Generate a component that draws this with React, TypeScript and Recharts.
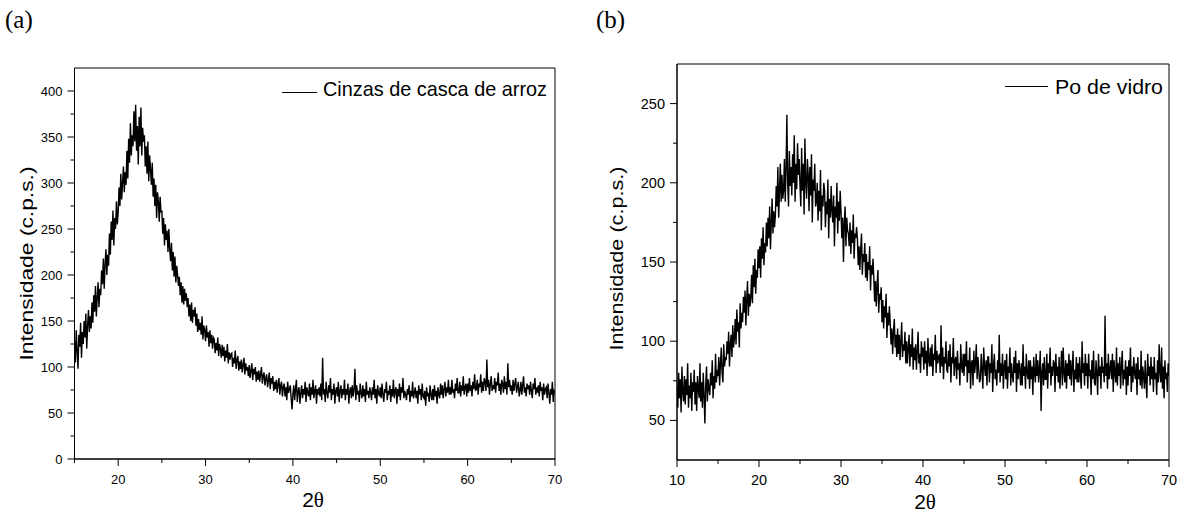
import React from 'react';
import { LineChart, Line, XAxis, YAxis, ReferenceArea, Legend } from 'recharts';

// ---------- Panel (a): Cinzas de casca de arroz ----------
const nameA = 'Cinzas de casca de arroz';
const angleStartA = 15;
const angleStepA = 0.1;
// one row per degree (15.0 ... 69.9), then 70.0
const intensityA = [
  128, 105, 140, 118, 98, 135, 122, 148, 110, 138,
  125, 150, 132, 158, 120, 145, 162, 138, 155, 142,
  170, 148, 178, 160, 188, 155, 175, 192, 165, 185,
  178, 205, 190, 218, 185, 212, 228, 200, 222, 210,
  245, 222, 258, 238, 270, 232, 262, 250, 280, 255,
  268, 295, 275, 310, 282, 300, 318, 290, 312, 298,
  335, 305, 348, 322, 365, 330, 352, 340, 378, 345,
  385, 335, 362, 320, 372, 340, 382, 330, 360, 345,
  352, 318, 340, 310, 345, 302, 330, 315, 298, 322,
  285, 305, 275, 298, 262, 290, 280, 258, 285, 268,
  270, 245, 262, 232, 255, 238, 248, 225, 250, 228,
  215, 235, 205, 225, 198, 220, 192, 210, 200, 188,
  198, 178, 192, 170, 188, 168, 185, 172, 180, 165,
  175, 155, 168, 150, 170, 148, 162, 155, 165, 145,
  158, 138, 152, 140, 148, 135, 155, 130, 145, 140,
  128, 145, 132, 138, 122, 140, 126, 135, 120, 132,
  130, 115, 126, 118, 132, 112, 125, 120, 110, 124,
  112, 122, 106, 118, 110, 125, 104, 116, 108, 114,
  115, 100, 110, 104, 118, 98, 108, 112, 96, 106,
  98, 108, 94, 102, 110, 92, 104, 96, 100, 90,
  102, 88, 96, 104, 86, 98, 92, 100, 84, 95,
  86, 96, 84, 92, 100, 82, 90, 94, 80, 88,
  92, 78, 86, 94, 76, 88, 82, 90, 74, 84,
  76, 86, 72, 82, 88, 70, 80, 84, 68, 78,
  82, 68, 78, 64, 84, 72, 76, 80, 66, 54,
  70, 80, 64, 76, 86, 62, 74, 78, 60, 72,
  80, 66, 76, 70, 84, 62, 78, 72, 68, 82,
  64, 78, 70, 86, 66, 74, 80, 60, 76, 70,
  78, 68, 82, 64, 110, 70, 76, 62, 84, 72,
  66, 80, 72, 88, 64, 76, 70, 82, 60, 74,
  78, 68, 84, 62, 74, 80, 66, 76, 70, 86,
  64, 76, 70, 82, 60, 74, 78, 66, 80, 68,
  76, 98, 64, 80, 70, 74, 62, 82, 72, 66,
  80, 68, 76, 62, 84, 70, 74, 66, 78, 72,
  64, 78, 70, 86, 66, 76, 60, 80, 72, 68,
  78, 66, 82, 70, 62, 76, 72, 84, 64, 74,
  70, 80, 62, 76, 68, 86, 66, 74, 78, 60,
  76, 68, 82, 64, 78, 72, 88, 66, 74, 70,
  64, 76, 70, 80, 62, 74, 68, 84, 66, 72,
  78, 66, 74, 60, 80, 70, 76, 64, 82, 68,
  66, 74, 58, 78, 68, 72, 62, 80, 70, 64,
  76, 64, 80, 68, 74, 60, 78, 70, 66, 82,
  70, 80, 66, 76, 84, 68, 78, 72, 86, 70,
  78, 70, 86, 72, 76, 66, 82, 74, 88, 72,
  72, 84, 68, 80, 74, 90, 70, 78, 82, 68,
  82, 72, 88, 74, 80, 68, 84, 76, 92, 74,
  76, 86, 70, 82, 78, 92, 72, 84, 74, 88,
  84, 74, 108, 78, 86, 70, 82, 90, 74, 80,
  76, 88, 72, 84, 80, 94, 74, 82, 70, 86,
  82, 72, 90, 76, 84, 70, 104, 78, 86, 74,
  80, 70, 86, 74, 82, 88, 72, 78, 84, 68,
  74, 84, 70, 80, 90, 72, 78, 68, 82, 76,
  80, 70, 84, 74, 66, 82, 76, 88, 70, 78,
  72, 80, 68, 84, 74, 78, 64, 82, 70, 76,
  78, 66, 82, 72, 60, 76, 70, 84, 62, 74,
  72,
];
const xDomainA = [15, 70];
const yDomainA = [0, 425];
const xTicksA = [15, 20, 25, 30, 35, 40, 45, 50, 55, 60, 65, 70];
const yTicksA = [0, 25, 50, 75, 100, 125, 150, 175, 200, 225, 250, 275, 300, 325, 350, 375, 400];

// ---------- Panel (b): Po de vidro ----------
const nameB = 'Po de vidro';
const angleStartB = 10;
const angleStepB = 0.1;
// one row per degree (10.0 ... 69.9), then 70.0
const intensityB = [
  72, 58, 80, 64, 76, 55, 84, 68, 62, 78,
  60, 76, 66, 86, 58, 72, 64, 80, 56, 74,
  68, 82, 60, 74, 56, 78, 70, 64, 86, 62,
  74, 58, 80, 66, 48, 72, 84, 62, 76, 70,
  66, 80, 72, 88, 64, 78, 70, 92, 74, 82,
  78, 90, 72, 86, 96, 80, 74, 98, 84, 90,
  88, 100, 92, 106, 84, 98, 104, 90, 110, 96,
  102, 114, 98, 120, 106, 112, 96, 124, 108, 118,
  112, 128, 118, 132, 110, 126, 138, 116, 130, 122,
  128, 142, 124, 148, 134, 152, 130, 145, 140, 158,
  146, 160, 140, 165, 152, 172, 148, 162, 156, 175,
  160, 178, 165, 185, 158, 175, 190, 168, 182, 172,
  180, 198, 185, 210, 178, 195, 212, 188, 205, 190,
  195, 215, 188, 208, 243, 200, 185, 220, 198, 210,
  192, 218, 200, 230, 188, 212, 196, 225, 205, 215,
  198, 185, 222, 195, 212, 180, 228, 200, 190, 215,
  205, 182, 210, 192, 218, 175, 202, 195, 212, 185,
  188, 200, 176, 195, 182, 208, 170, 192, 185, 200,
  195, 172, 188, 180, 202, 165, 190, 178, 198, 182,
  175, 192, 160, 185, 178, 200, 168, 188, 176, 195,
  182, 165, 178, 150, 175, 185, 160, 178, 170, 168,
  160, 175, 155, 170, 162, 180, 152, 168, 165, 172,
  165, 148, 160, 145, 158, 168, 142, 155, 150, 162,
  140, 155, 138, 150, 145, 160, 132, 148, 142, 152,
  140, 125, 138, 122, 135, 145, 118, 130, 126, 134,
  112, 126, 108, 122, 115, 130, 102, 118, 110, 122,
  112, 98, 108, 92, 106, 114, 96, 104, 90, 108,
  92, 104, 88, 100, 112, 90, 98, 94, 106, 86,
  100, 86, 96, 104, 84, 98, 90, 108, 82, 96,
  88, 98, 82, 94, 106, 86, 92, 80, 100, 90,
  96, 82, 100, 86, 94, 78, 102, 88, 84, 96,
  84, 98, 78, 92, 88, 104, 80, 94, 86, 90,
  92, 80, 110, 84, 96, 76, 90, 86, 100, 82,
  80, 94, 84, 98, 74, 90, 86, 102, 78, 88,
  90, 76, 94, 82, 86, 72, 98, 84, 80, 92,
  78, 92, 84, 100, 74, 88, 80, 96, 70, 86,
  88, 72, 94, 80, 86, 98, 76, 90, 82, 74,
  76, 92, 82, 70, 96, 84, 78, 88, 72, 90,
  90, 74, 86, 80, 98, 68, 84, 92, 76, 82,
  72, 88, 80, 104, 74, 86, 78, 92, 70, 84,
  88, 76, 92, 70, 84, 80, 96, 72, 86, 78,
  74, 90, 80, 94, 68, 86, 76, 88, 82, 72,
  86, 72, 98, 78, 84, 70, 92, 80, 76, 88,
  70, 88, 76, 84, 66, 90, 80, 74, 92, 78,
  88, 74, 82, 94, 56, 80, 86, 72, 90, 76,
  76, 92, 70, 86, 80, 96, 72, 84, 78, 88,
  86, 68, 92, 78, 84, 74, 90, 70, 82, 94,
  72, 96, 80, 74, 88, 70, 86, 78, 92, 76,
  88, 72, 84, 94, 68, 82, 76, 90, 74, 86,
  74, 90, 78, 70, 100, 80, 86, 72, 92, 78,
  86, 70, 92, 78, 82, 66, 88, 76, 94, 74,
  72, 88, 80, 66, 92, 78, 84, 70, 90, 80,
  84, 74, 116, 78, 86, 70, 92, 76, 82, 88,
  76, 92, 68, 88, 80, 74, 96, 72, 86, 78,
  90, 70, 84, 94, 72, 82, 76, 88, 66, 84,
  72, 88, 78, 96, 68, 84, 74, 90, 80, 76,
  86, 66, 90, 76, 82, 72, 94, 70, 84, 78,
  70, 88, 74, 64, 92, 78, 84, 72, 90, 76,
  84, 68, 90, 76, 80, 66, 88, 74, 98, 80,
  74, 96, 70, 84, 64, 88, 76, 80, 68, 86,
  78,
];
const xDomainB = [10, 70];
const yDomainB = [25, 275];
const xTicksB = [10, 15, 20, 25, 30, 35, 40, 45, 50, 55, 60, 65, 70];
const yTicksB = [50, 75, 100, 125, 150, 175, 200, 225, 250];

const yTitle = 'Intensidade (c.p.s.)';

const toData = (start: number, step: number, values: number[]) =>
  values.map((v, i) => ({ x: Math.round((start + i * step) * 100) / 100, y: v }));

const dataA = toData(angleStartA, angleStepA, intensityA);
const dataB = toData(angleStartB, angleStepB, intensityB);

const SANS = '"Liberation Sans", Arial, Helvetica, sans-serif';
const SERIF = '"Liberation Serif", "Times New Roman", serif';

const makeXTick = (majorEvery: number, fontSize: number, dy: number) => (props: any) => {
  const { x, y, payload } = props;
  const major = payload.value % majorEvery === 0;
  return (
    <g>
      <line x1={x} y1={y} x2={x} y2={y + (major ? 7 : 4)} stroke="#000" strokeWidth={1} />
      {major && (
        <text x={x} y={y + dy} textAnchor="middle" fontSize={fontSize} fontFamily={SANS} fill="#000">
          {payload.value}
        </text>
      )}
    </g>
  );
};

const makeYTick = (majorEvery: number, fontSize: number, gap: number) => (props: any) => {
  const { x, y, payload } = props;
  const major = payload.value % majorEvery === 0;
  return (
    <g>
      <line x1={x} y1={y} x2={x - (major ? 7 : 4)} y2={y} stroke="#000" strokeWidth={1} />
      {major && (
        <text x={x - gap} y={y + fontSize * 0.35} textAnchor="end" fontSize={fontSize} fontFamily={SANS} fill="#000">
          {payload.value}
        </text>
      )}
    </g>
  );
};

const YTitle = ({ cx, cy, len, text }: any) => (
  <text
    transform={`translate(${cx},${cy}) rotate(-90)`}
    textAnchor="middle"
    fontSize={19}
    fontFamily={SANS}
    fill="#000"
    textLength={len}
    lengthAdjust="spacingAndGlyphs"
  >
    {text}
  </text>
);

const XTitle = ({ cx, baseline }: any) => (
  <text x={cx} y={baseline} textAnchor="middle" fontSize={21} fill="#000">
    <tspan fontFamily={SANS}>2</tspan>
    <tspan fontFamily={SERIF}>θ</tspan>
  </text>
);

const makeLegend = (w: number, h: number, lx1: number, lx2: number, ly: number, tx: number, tb: number, tlen: number, fallback: string) =>
  (props: any) => {
    const label = props?.payload?.[0]?.value ?? fallback;
    return (
      <svg width={w} height={h} style={{ display: 'block', overflow: 'visible' }}>
        <line x1={lx1} y1={ly} x2={lx2} y2={ly} stroke="#000" strokeWidth={1} />
        <text x={tx} y={tb} fontSize={21} fontFamily={SANS} fill="#000" textLength={tlen} lengthAdjust="spacingAndGlyphs">
          {label}
        </text>
      </svg>
    );
  };

export default function App() {
  return (
    <div style={{ position: 'absolute', left: 0, top: 0, width: 1185, height: 513, background: '#fff', overflow: 'hidden' }}>
      <svg width={1185} height={40} style={{ position: 'absolute', left: 0, top: 0 }}>
        <text x={5} y={28} fontSize={25} fontFamily={SERIF} fill="#000">(a)</text>
        <text x={596} y={28} fontSize={25} fontFamily={SERIF} fill="#000">(b)</text>
      </svg>

      <div style={{ position: 'absolute', left: 0, top: 0 }}>
        <LineChart width={600} height={513} data={dataA} margin={{ top: 68, right: 45, bottom: 24, left: 0 }}>
          <XAxis
            dataKey="x"
            type="number"
            domain={xDomainA}
            ticks={xTicksA}
            interval={0}
            allowDataOverflow
            height={30}
            tickSize={0}
            tickMargin={0}
            axisLine={{ stroke: '#000' }}
            tick={makeXTick(10, 13, 25)}
            label={<XTitle cx={313} baseline={507} />}
          />
          <YAxis
            dataKey="y"
            type="number"
            domain={yDomainA}
            ticks={yTicksA}
            interval={0}
            allowDataOverflow
            width={74.5}
            tickSize={0}
            tickMargin={0}
            axisLine={{ stroke: '#000' }}
            tick={makeYTick(50, 13, 12)}
            label={<YTitle cx={32.5} cy={263.5} len={194} text={yTitle} />}
          />
          <ReferenceArea x1={xDomainA[0]} x2={xDomainA[1]} y1={yDomainA[0]} y2={yDomainA[1]} fill="none" fillOpacity={0} stroke="#000" strokeWidth={1} ifOverflow="visible" />
          <Legend
            layout="horizontal"
            verticalAlign="middle"
            align="center"
            wrapperStyle={{ left: 0, top: 0, width: 600, height: 110 }}
            content={makeLegend(600, 110, 282, 317, 92.5, 323, 96, 224, nameA)}
          />
          <Line type="linear" dataKey="y" name={nameA} stroke="#000" strokeWidth={1.4} dot={false} isAnimationActive={false} />
        </LineChart>
      </div>

      <div style={{ position: 'absolute', left: 600, top: 0 }}>
        <LineChart width={585} height={513} data={dataB} margin={{ top: 64, right: 16, bottom: 23, left: 0 }}>
          <XAxis
            dataKey="x"
            type="number"
            domain={xDomainB}
            ticks={xTicksB}
            interval={0}
            allowDataOverflow
            height={30}
            tickSize={0}
            tickMargin={0}
            axisLine={{ stroke: '#000' }}
            tick={makeXTick(10, 14.5, 25)}
            label={<XTitle cx={325} baseline={509} />}
          />
          <YAxis
            dataKey="y"
            type="number"
            domain={yDomainB}
            ticks={yTicksB}
            interval={0}
            allowDataOverflow
            width={77}
            tickSize={0}
            tickMargin={0}
            axisLine={{ stroke: '#000' }}
            tick={makeYTick(50, 14.5, 12)}
            label={<YTitle cx={22.5} cy={258.5} len={184} text={yTitle} />}
          />
          <ReferenceArea x1={xDomainB[0]} x2={xDomainB[1]} y1={yDomainB[0]} y2={yDomainB[1]} fill="none" fillOpacity={0} stroke="#000" strokeWidth={1} ifOverflow="visible" />
          <Legend
            layout="horizontal"
            verticalAlign="middle"
            align="center"
            wrapperStyle={{ left: 0, top: 0, width: 585, height: 110 }}
            content={makeLegend(585, 110, 405, 448, 86.5, 455, 93.5, 108, nameB)}
          />
          <Line type="linear" dataKey="y" name={nameB} stroke="#000" strokeWidth={1.4} dot={false} isAnimationActive={false} />
        </LineChart>
      </div>
    </div>
  );
}
